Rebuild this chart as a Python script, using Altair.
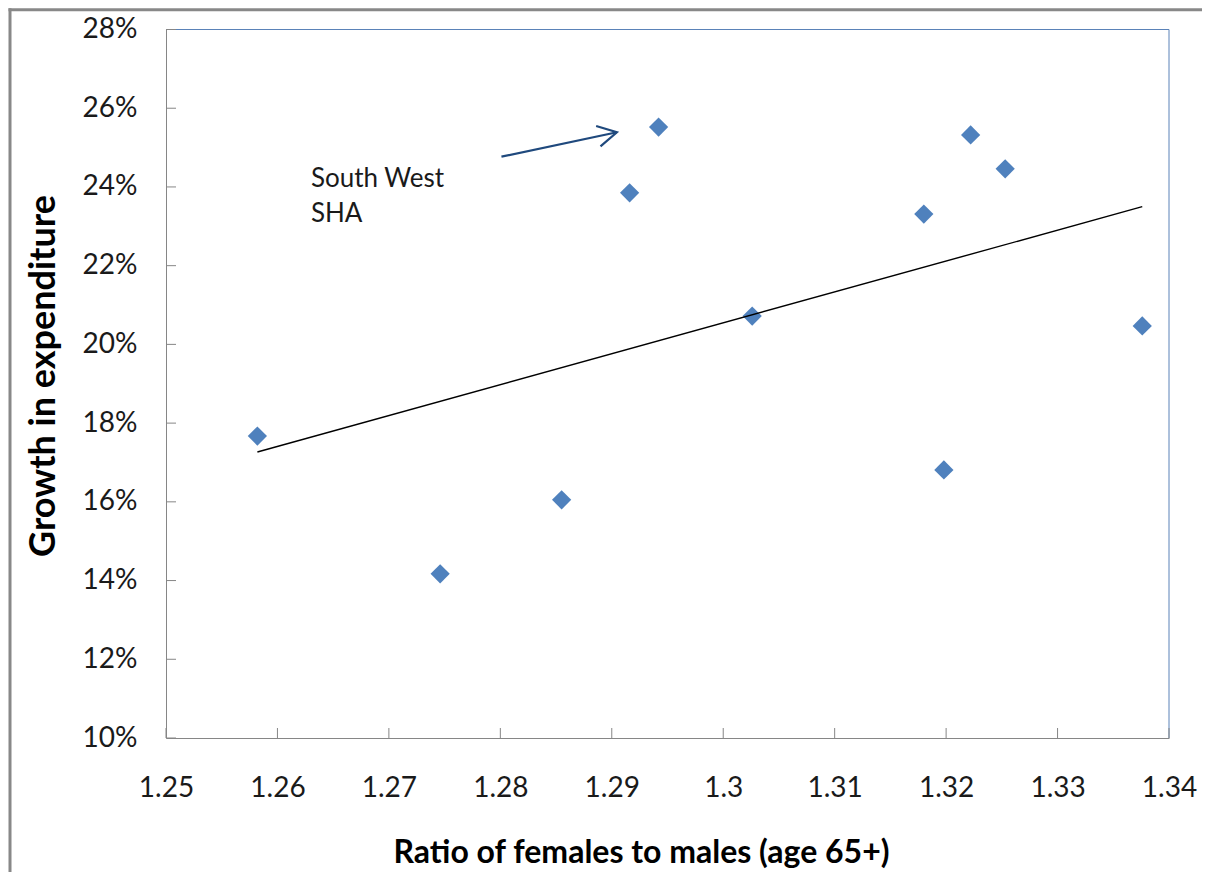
import altair as alt
import pandas as pd

# data
ratio = [1.2582, 1.2746, 1.2855, 1.2916, 1.2942, 1.3026, 1.3180, 1.3198, 1.3222, 1.3253, 1.3376]
growth = [0.1767, 0.1417, 0.1605, 0.2385, 0.2552, 0.2072, 0.2331, 0.1681, 0.2532, 0.2446, 0.2047]

x_ticks = [1.25, 1.26, 1.27, 1.28, 1.29, 1.30, 1.31, 1.32, 1.33, 1.34]
y_ticks = [0.10, 0.12, 0.14, 0.16, 0.18, 0.20, 0.22, 0.24, 0.26, 0.28]

note_x = [1.2630, 1.2630]
note_y = [0.2400, 0.2311]
note_text = ["South West", "SHA"]

arrow_x = [1.2801]
arrow_y = [0.2477]
arrow_x2 = [1.29046]
arrow_y2 = [0.2539]

W = 1003
H = 708.5
PAD_R = 33
PAD_B = 134
FONT = "Lato"

xs = alt.Scale(domain=[1.25, 1.34], zero=False, nice=False)
ys = alt.Scale(domain=[0.10, 0.28], zero=False, nice=False)

pts = pd.DataFrame({"ratio": ratio, "growth": growth})

x_axis = alt.Axis(
    values=x_ticks, format=".3~r", title="Ratio of females to males (age 65+)",
    grid=False, ticks=False, tickSize=0, labelPadding=50, labelBaseline="middle",
    labelFont=FONT, labelFontSize=28, labelColor="#1a1a1a", labelFlush=False, labelOverlap=False,
    domainColor="#868686", domainWidth=1,
    titleFont=FONT, titleFontSize=32, titleFontWeight="bold", titleColor="#000000",
    titleX=475, titleY=124, titleBaseline="alphabetic", titleAlign="center",
)
y_axis = alt.Axis(
    values=y_ticks, format=".0%", title="Growth in expenditure",
    grid=False, ticks=False, tickSize=0, labelPadding=29, labelAlign="right", labelBaseline="middle",
    labelFont=FONT, labelFontSize=28, labelColor="#1a1a1a", labelFlush=False, labelOverlap=False,
    domainColor="#868686", domainWidth=1,
    titleFont=FONT, titleFontSize=36, titleFontWeight="bold", titleColor="#000000",
    titleX=-112, titleY=346, titleBaseline="alphabetic", titleAlign="center", titleAngle=270,
)


def X(field):
    return alt.X(field, scale=xs, axis=x_axis)


def Y(field):
    return alt.Y(field, scale=ys, axis=y_axis)


points = alt.Chart(pts).mark_point(
    shape="diamond", filled=True, size=370, color="#4F81BD", opacity=1
).encode(x=X("ratio:Q"), y=Y("growth:Q"))

trend = alt.Chart(pts).transform_regression("ratio", "growth").mark_line(
    color="#000000", strokeWidth=1.4
).encode(x=X("ratio:Q"), y=Y("growth:Q"))

ytick_df = pd.DataFrame({"v": y_ticks})
xtick_df = pd.DataFrame({"v": x_ticks})

yticks = alt.Chart(ytick_df).mark_rule(color="#868686", strokeWidth=1).encode(
    y=Y("v:Q"), x=alt.value(0), x2=alt.value(10)
)
xticks = alt.Chart(xtick_df).mark_rule(color="#868686", strokeWidth=1).encode(
    x=X("v:Q"), y=alt.value(H), y2=alt.value(H - 10)
)

one = pd.DataFrame({"d": [0]})
top_border = alt.Chart(one).mark_rule(color="#5A82B8", strokeWidth=1).encode(
    x=alt.value(0), x2=alt.value(W), y=alt.value(0)
)
right_border = alt.Chart(one).mark_rule(color="#5A82B8", strokeWidth=1).encode(
    x=alt.value(W), y=alt.value(0), y2=alt.value(H)
)
frame_left = alt.Chart(one).mark_rule(color="#888888", strokeWidth=3).encode(
    x=alt.value(-156), y=alt.value(-21.3), y2=alt.value(H + PAD_B)
)
frame_top = alt.Chart(one).mark_rule(color="#888888", strokeWidth=3).encode(
    x=alt.value(-157.5), x2=alt.value(W + PAD_R), y=alt.value(-19.8)
)

notes = alt.Chart(pd.DataFrame({"x": note_x, "y": note_y, "t": note_text})).mark_text(
    align="left", baseline="alphabetic", font=FONT, fontSize=26, color="#1a1a1a"
).encode(x=X("x:Q"), y=Y("y:Q"), text="t:N")

arrow_df = pd.DataFrame({"x": arrow_x, "y": arrow_y, "x2": arrow_x2, "y2": arrow_y2})
arrow_line = alt.Chart(arrow_df).mark_rule(color="#1F497D", strokeWidth=2.2).encode(
    x=X("x:Q"), y=Y("y:Q"), x2="x2:Q", y2="y2:Q"
)
arrow_head = alt.Chart(arrow_df).mark_point(
    shape="M-1,-0.55L0,0L-1,0.55", filled=False, size=1444, angle=348,
    color="#1F497D", strokeWidth=2.2, opacity=1
).encode(x=X("x2:Q"), y=Y("y2:Q"))

chart = alt.layer(
    points, frame_left, frame_top, top_border, right_border, yticks, xticks,
    trend, notes, arrow_line, arrow_head
).properties(
    width=W, height=H,
    autosize=alt.AutoSizeParams(type="none"),
    padding={"left": 158, "top": 21.5, "right": PAD_R, "bottom": PAD_B},
    background="white",
).configure_view(stroke=None)

chart.save("out.html", embed_options={"renderer": "svg", "actions": False})
